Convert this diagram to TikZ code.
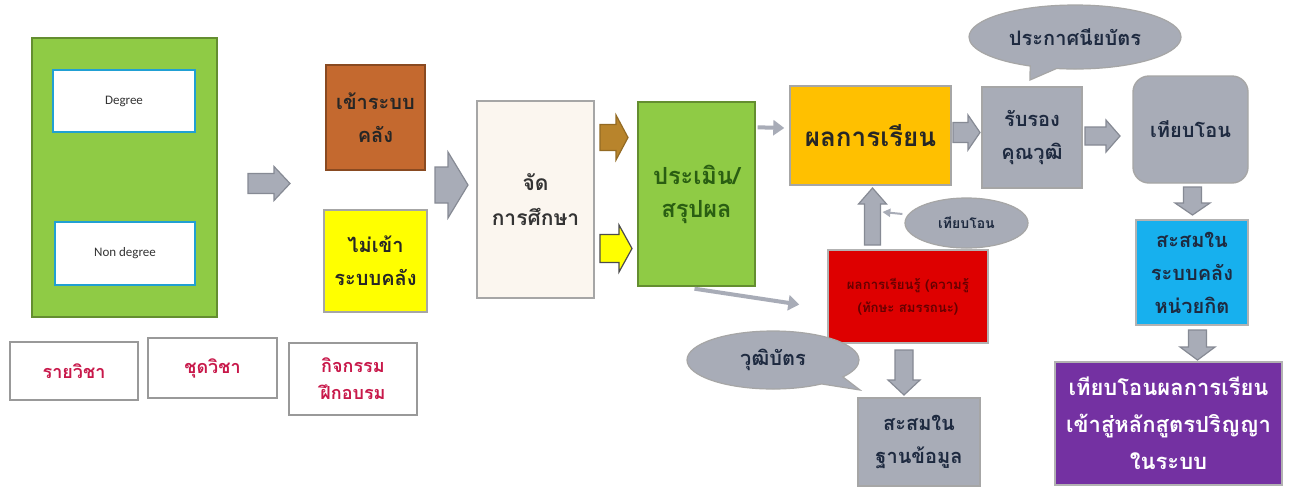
\documentclass[tikz,border=0pt]{standalone}
\usepackage{fontspec}
\newfontfamily\thaif[Script=Thai]{Loma}
\newfontfamily\latf{Carlito}
\usetikzlibrary{shapes.callouts,shapes.geometric,arrows.meta,calc}
\definecolor{cgreen}{HTML}{8FCB45}
\definecolor{cbrown}{HTML}{C4692F}
\definecolor{cyel}{HTML}{FFFF00}
\definecolor{ccream}{HTML}{FBF6EF}
\definecolor{corange}{HTML}{FFC000}
\definecolor{cgray}{HTML}{A8ACB7}
\definecolor{cgrayd}{HTML}{868A94}
\definecolor{ccyan}{HTML}{17B0EE}
\definecolor{cpurple}{HTML}{7431A2}
\definecolor{cred}{HTML}{DE0000}
\definecolor{ccrim}{HTML}{C8184A}
\definecolor{cdgreen}{HTML}{2A5E12}
\definecolor{cbarrow}{HTML}{B8842C}
\definecolor{cnavy}{HTML}{1E2A40}
\newcommand\barrow[7]{%
  \begin{scope}[shift={#1},rotate=#2]
    \draw[#7] (-#3/2,-#5/2) -- (#3/2-#6,-#5/2) -- (#3/2-#6,-#4/2) -- (#3/2,0)
      -- (#3/2-#6,#4/2) -- (#3/2-#6,#5/2) -- (-#3/2,#5/2) -- cycle;
  \end{scope}}
\tikzset{
  box/.style={draw=#1!70!black, line width=0.7pt, inner sep=1pt, align=center},
  tt/.style={font=\thaif\bfseries\fontsize{10}{16.5}\selectfont},
  garrow/.style={fill=cgray, draw=cgrayd, line width=0.6pt},
  thinarr/.style={draw=cgray, line width=2pt, -{Triangle[width=7.5pt,length=5.5pt]}},
}
\begin{document}
\begin{tikzpicture}[x=0.5pt,y=-0.5pt]
\useasboundingbox (0,0) rectangle (1291,489);
\fill[white] (0,0) rectangle (1291,489);
% left green panel
\node[box=cgreen, fill=cgreen, minimum width=92.5pt, minimum height=139.5pt] (panel) at (124.5,177.5) {};
\node[draw=cyan!70!teal, line width=0.8pt, fill=white, minimum width=71pt, minimum height=31pt, font=\latf\fontsize{6.5}{7}\selectfont, text=black!80] (deg) at (124,101) {Degree};
\node[draw=cyan!70!teal, line width=0.8pt, fill=white, minimum width=70pt, minimum height=31.5pt, font=\latf\fontsize{6.5}{7}\selectfont, text=black!80] (nondeg) at (125,253.5) {Non degree};
% bottom boxes
\tikzset{wbox/.style={draw=gray!80, line width=0.8pt, fill=white, align=center, text=ccrim, font=\thaif\bfseries\fontsize{9}{13.5}\selectfont}}
\node[wbox, minimum width=64pt, minimum height=29pt] (b1) at (74,371) {รายวิชา};
\node[wbox, minimum width=64.5pt, minimum height=30pt] (b2) at (212.5,368) {ชุดวิชา};
\node[wbox, minimum width=64pt, minimum height=36pt] (b3) at (353,379) {กิจกรรม\\ฝึกอบรม};
% column 2
\node[box=cbrown, fill=cbrown, tt, minimum width=49.5pt, minimum height=52.5pt, text=black!85] (inbank) at (375.5,117.5) {เข้าระบบ\\คลัง};
\node[box=cyel, draw=gray!70, fill=cyel, tt, minimum width=51.5pt, minimum height=51pt, text=black!85] (notbank) at (375.5,261) {ไม่เข้า\\ระบบคลัง};
\node[draw=gray!70, line width=0.8pt, fill=ccream, tt, align=center, minimum width=58.5pt, minimum height=98.5pt, font=\thaif\bfseries\fontsize{10.5}{17.5}\selectfont, text=black!80] (edu) at (535.5,199.5) {จัด\\การศึกษา};
\node[box=cgreen, fill=cgreen, minimum width=58.5pt, minimum height=92pt, font=\thaif\bfseries\fontsize{11.8}{16.5}\selectfont, text=cdgreen] (eval) at (696.5,194) {ประเมิน/\\สรุปผล};
\node[draw=gray!70, line width=0.7pt, fill=corange, minimum width=80.5pt, minimum height=49.5pt, font=\thaif\bfseries\fontsize{13}{16}\selectfont, text=black!85] (result) at (870.5,135.5) {ผลการเรียน};
\node[draw=gray!70, line width=0.7pt, fill=cgray, tt, align=center, minimum width=50pt, minimum height=50.5pt, text=cnavy] (accred) at (1032,137.5) {รับรอง\\คุณวุฒิ};
\node[draw=gray!70, line width=0.7pt, fill=cgray, tt, rounded corners=8pt, minimum width=57.5pt, minimum height=53.5pt, text=cnavy] (transfer) at (1190.5,129.5) {เทียบโอน};
\node[draw=gray!60, line width=0.7pt, fill=ccyan, tt, align=center, minimum width=56pt, minimum height=52.5pt, text=cnavy] (bank) at (1192,272.5) {สะสมใน\\ระบบคลัง\\หน่วยกิต};
\node[draw=gray!60, line width=0.7pt, fill=cpurple, align=center, minimum width=113.5pt, minimum height=61.5pt, text=white, font=\thaif\bfseries\fontsize{11}{18.5}\selectfont] (degreein) at (1168.5,423.5) {เทียบโอนผลการเรียน\\เข้าสู่หลักสูตรปริญญา\\ในระบบ};
\node[draw=gray!60, line width=0.7pt, fill=cred, align=center, minimum width=80pt, minimum height=46.5pt, text=red!40!black, font=\thaif\bfseries\fontsize{6.6}{11.5}\selectfont] (outcome) at (908,296.5) {ผลการเรียนรู้ (ความรู้\\(ทักษะ สมรรถนะ)};
\node[draw=gray!70, line width=0.7pt, fill=cgray, tt, align=center, minimum width=61pt, minimum height=44pt, text=cnavy] (db) at (919,442) {สะสมใน\\ฐานข้อมูล};
% callouts
\node[ellipse callout, draw=gray!70, line width=0.6pt, fill=cgray, tt, text=cnavy, minimum width=106pt, minimum height=32pt, callout absolute pointer={(1030,80)}] (cert) at (1075,37) {ประกาศนียบัตร};
\node[ellipse, draw=gray!70, line width=0.6pt, fill=cgray, text=cnavy, minimum width=61.5pt, minimum height=25pt, font=\thaif\bfseries\fontsize{7}{8}\selectfont] (tb) at (966.5,223) {เทียบโอน};
\node[ellipse callout, draw=gray!70, line width=0.6pt, fill=cgray, tt, text=cnavy, minimum width=86pt, minimum height=29pt, callout absolute pointer={(860,390)}, callout pointer arc=20] (wb) at (773,360) {วุฒิบัตร};
% block arrows
\barrow{(269,183.5)}{0}{42}{34}{20}{16}{garrow}
\barrow{(451.5,185)}{0}{33}{66}{36}{20}{garrow}
\barrow{(614,137.5)}{0}{28}{45}{26}{12}{fill=cbarrow, draw=cbarrow!80!black, line width=0.6pt}
\barrow{(616,248.5)}{0}{32}{47}{28}{13}{fill=cyel, draw=black!70, line width=0.6pt}
\barrow{(966.5,132.5)}{0}{27}{35}{20}{12}{garrow}
\barrow{(1102.5,136)}{0}{35}{32}{18}{14}{garrow}
\barrow{(1192.5,201)}{-90}{28}{35}{18}{12}{garrow}
\barrow{(1197.5,345)}{-90}{30}{35}{18}{13}{garrow}
\barrow{(872.5,216.5)}{90}{57}{28}{16}{16}{garrow}
\barrow{(904,372.5)}{-90}{45}{32}{18}{15}{garrow}
% thin arrows
\draw[thinarr] ($(eval.north east)+(2,26)$) -- ($(result.west)+(-5,-7.5)$);
\draw[thinarr] ($(eval.south)+(-2,2)$) -- ($(outcome.west)+(-28,8)$);
\draw[draw=cgray, line width=1pt, -{Triangle[width=4pt,length=4pt]}] ($(tb.west)+(-2,-9)$) -- ++(-20,-2);
\end{tikzpicture}
\end{document}
